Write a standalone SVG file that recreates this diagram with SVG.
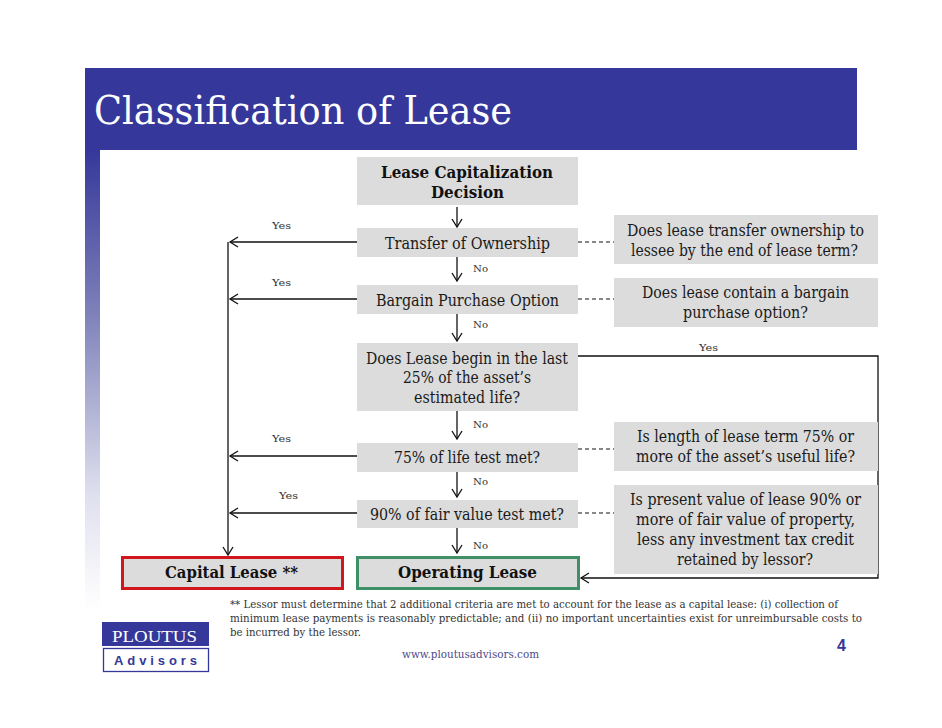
<svg xmlns="http://www.w3.org/2000/svg" width="942" height="728" viewBox="0 0 942 728">
<style>
text{font-family:"DejaVu Serif","Liberation Serif",serif;fill:#1a1a1a}
.m{font-size:16px}
.b{font-size:16px;font-weight:bold;fill:#111}
.s{font-size:10px;fill:#333}
.f{font-size:10.5px;fill:#333}
.box{fill:#dcdcdc}
.ln{fill:none;stroke:#111;stroke-width:1.3}
.d{fill:none;stroke:#111;stroke-width:1.2;stroke-dasharray:4 3}
</style>
<defs>
<linearGradient id="g" x1="0" y1="0" x2="0" y2="1"><stop offset="0" stop-color="#35389a"/><stop offset="0.35" stop-color="#7d80b8"/><stop offset="0.75" stop-color="#dfe0ee"/><stop offset="1" stop-color="#ffffff"/></linearGradient>
<marker id="a" markerWidth="14" markerHeight="14" refX="12" refY="7" orient="auto" markerUnits="userSpaceOnUse"><path d="M4 2L12 7L4 12" fill="none" stroke="#111" stroke-width="1.3"/></marker>
</defs>
<rect width="942" height="728" fill="#fff"/>
<g id="header">
<rect x="85" y="68" width="772" height="82" fill="#35389a"/>
<rect x="85" y="150" width="15" height="460" fill="url(#g)"/>
<text x="94" y="124" font-size="40" style="fill:#fff" textLength="418" lengthAdjust="spacingAndGlyphs">Classification of Lease</text>
</g>
<g id="connectors">
<path class="ln" marker-end="url(#a)" d="M457 207V227"/>
<path class="ln" marker-end="url(#a)" d="M457 257V281"/>
<path class="ln" marker-end="url(#a)" d="M457 314V341"/>
<path class="ln" marker-end="url(#a)" d="M457 411V439"/>
<path class="ln" marker-end="url(#a)" d="M457 472V497"/>
<path class="ln" marker-end="url(#a)" d="M457 528V553"/>
<path class="ln" marker-end="url(#a)" d="M357 242H230"/>
<path class="ln" marker-end="url(#a)" d="M357 299H230"/>
<path class="ln" marker-end="url(#a)" d="M357 456H230"/>
<path class="ln" marker-end="url(#a)" d="M357 513H230"/>
<path class="ln" marker-end="url(#a)" d="M228 242V555"/>
<path class="ln" marker-end="url(#a)" d="M578 356H878V578H581"/>
<path class="d" d="M578 242H614"/>
<path class="d" d="M578 299H614"/>
<path class="d" d="M578 449H614"/>
<path class="d" d="M578 513H614"/>
</g>
<g id="n-start"><rect class="box" x="357" y="157" width="221" height="48"/>
<text class="b" x="381" y="178" textLength="172" lengthAdjust="spacingAndGlyphs">Lease Capitalization</text>
<text class="b" x="431" y="198" textLength="73" lengthAdjust="spacingAndGlyphs">Decision</text></g>
<g id="n-transfer"><rect class="box" x="357" y="228" width="221" height="29"/>
<text class="m" x="385" y="249" textLength="165" lengthAdjust="spacingAndGlyphs">Transfer of Ownership</text></g>
<g id="n-bargain"><rect class="box" x="357" y="285" width="221" height="29"/>
<text class="m" x="376" y="306" textLength="183" lengthAdjust="spacingAndGlyphs">Bargain Purchase Option</text></g>
<g id="n-begin"><rect class="box" x="357" y="343" width="221" height="68"/>
<text class="m" x="366" y="364" textLength="202" lengthAdjust="spacingAndGlyphs">Does Lease begin in the last</text>
<text class="m" x="403" y="383" textLength="128" lengthAdjust="spacingAndGlyphs">25% of the asset’s</text>
<text class="m" x="414" y="403" textLength="106" lengthAdjust="spacingAndGlyphs">estimated life?</text></g>
<g id="n-75"><rect class="box" x="357" y="443" width="221" height="29"/>
<text class="m" x="394" y="463" textLength="146" lengthAdjust="spacingAndGlyphs">75% of life test met?</text></g>
<g id="n-90"><rect class="box" x="357" y="500" width="221" height="28"/>
<text class="m" x="370" y="520" textLength="194" lengthAdjust="spacingAndGlyphs">90% of fair value test met?</text></g>
<g id="n-capital"><rect x="122.500" y="557.500" width="220" height="31" fill="#dcdcdc" stroke="#d2161e" stroke-width="3"/>
<text class="b" x="165" y="578" textLength="133" lengthAdjust="spacingAndGlyphs">Capital Lease **</text></g>
<g id="n-operating"><rect x="357.500" y="557.500" width="221" height="31" fill="#dcdcdc" stroke="#3f8f68" stroke-width="3"/>
<text class="b" x="398" y="578" textLength="139" lengthAdjust="spacingAndGlyphs">Operating Lease</text></g>
<g id="q-transfer"><rect class="box" x="614" y="215" width="264" height="49"/>
<text class="m" x="627" y="236" textLength="237" lengthAdjust="spacingAndGlyphs">Does lease transfer ownership to</text>
<text class="m" x="631" y="256" textLength="227" lengthAdjust="spacingAndGlyphs">lessee by the end of lease term?</text></g>
<g id="q-bargain"><rect class="box" x="614" y="278" width="264" height="49"/>
<text class="m" x="642" y="298" textLength="207" lengthAdjust="spacingAndGlyphs">Does lease contain a bargain</text>
<text class="m" x="683" y="318" textLength="125" lengthAdjust="spacingAndGlyphs">purchase option?</text></g>
<g id="q-75"><rect class="box" x="614" y="422" width="264" height="49"/>
<text class="m" x="637" y="442" textLength="217" lengthAdjust="spacingAndGlyphs">Is length of lease term 75% or</text>
<text class="m" x="636" y="462" textLength="219" lengthAdjust="spacingAndGlyphs">more of the asset’s useful life?</text></g>
<g id="q-90"><rect class="box" x="614" y="485" width="264" height="89"/>
<text class="m" x="630" y="505" textLength="231" lengthAdjust="spacingAndGlyphs">Is present value of lease 90% or</text>
<text class="m" x="636" y="525" textLength="219" lengthAdjust="spacingAndGlyphs">more of fair value of property,</text>
<text class="m" x="637" y="545" textLength="217" lengthAdjust="spacingAndGlyphs">less any investment tax credit</text>
<text class="m" x="677" y="565" textLength="136" lengthAdjust="spacingAndGlyphs">retained by lessor?</text></g>
<g id="labels">
<text class="s" x="272" y="229" textLength="19" lengthAdjust="spacingAndGlyphs">Yes</text>
<text class="s" x="272" y="286" textLength="19" lengthAdjust="spacingAndGlyphs">Yes</text>
<text class="s" x="699" y="351" textLength="19" lengthAdjust="spacingAndGlyphs">Yes</text>
<text class="s" x="272" y="442" textLength="19" lengthAdjust="spacingAndGlyphs">Yes</text>
<text class="s" x="279" y="499" textLength="19" lengthAdjust="spacingAndGlyphs">Yes</text>
<text class="s" x="473" y="272" textLength="15" lengthAdjust="spacingAndGlyphs">No</text>
<text class="s" x="473" y="328" textLength="15" lengthAdjust="spacingAndGlyphs">No</text>
<text class="s" x="473" y="428" textLength="15" lengthAdjust="spacingAndGlyphs">No</text>
<text class="s" x="473" y="485" textLength="15" lengthAdjust="spacingAndGlyphs">No</text>
<text class="s" x="473" y="549" textLength="15" lengthAdjust="spacingAndGlyphs">No</text>
</g>
<g id="footnote">
<text class="f" x="230" y="608" textLength="608" lengthAdjust="spacingAndGlyphs">** Lessor must determine that 2 additional criteria are met to account for the lease as a capital lease: (i) collection of</text>
<text class="f" x="230" y="622" textLength="632" lengthAdjust="spacingAndGlyphs">minimum lease payments is reasonably predictable; and (ii) no important uncertainties exist for unreimbursable costs to</text>
<text class="f" x="230" y="636" textLength="131" lengthAdjust="spacingAndGlyphs">be incurred by the lessor.</text>
<text x="402" y="658" font-size="10.500" style="fill:#4a4a8c" textLength="137" lengthAdjust="spacingAndGlyphs">www.ploutusadvisors.com</text>
<text x="837" y="651" font-size="16" font-weight="bold" style="font-family:'Liberation Sans',sans-serif;fill:#35389a">4</text>
</g>
<g id="logo">
<rect x="102" y="622" width="107" height="24" fill="#35389a"/>
<text x="112" y="642" font-size="17" style="font-family:'Liberation Serif',serif;fill:#fff" textLength="85" lengthAdjust="spacingAndGlyphs">PLOUTUS</text>
<rect x="103.500" y="648.500" width="105" height="23" fill="#fff" stroke="#35389a" stroke-width="1.300"/>
<text x="114" y="665" font-size="13" font-weight="bold" style="font-family:'Liberation Sans',Arial,sans-serif;fill:#35389a" textLength="83">Advisors</text>
</g>
</svg>
